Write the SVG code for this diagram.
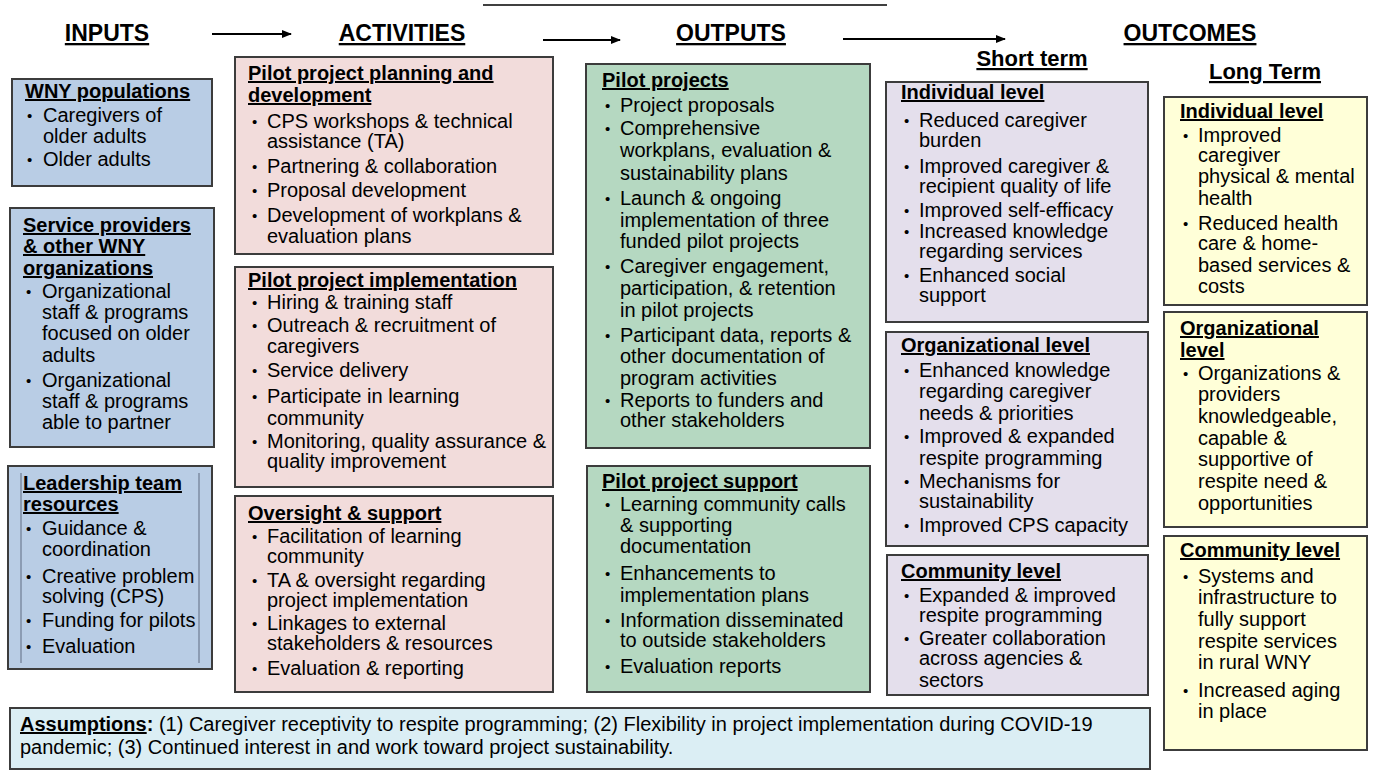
<svg xmlns="http://www.w3.org/2000/svg" width="1373" height="773" viewBox="0 0 1373 773">
  <style>
    text { font-family: "Liberation Sans", Arial, sans-serif; fill: #000; }
    .box { stroke: #3c3c3c; stroke-width: 2; }
    .in { fill: #b9cde5; }
    .act { fill: #f2dcdb; }
    .out { fill: #b5d8c1; }
    .st { fill: #e4dfec; }
    .lt { fill: #ffffd8; }
    .as { fill: #dbeef4; }
    .hd { font-size: 23px; font-weight: bold; text-decoration: underline; text-anchor: middle; }
    .sub { font-size: 22px; font-weight: bold; text-decoration: underline; text-anchor: middle; }
    .ti { font-size: 20px; font-weight: bold; text-decoration: underline; }
    .tx { font-size: 20px; }
    .bu { font-size: 15px; }
    .asm { font-size: 20px; }
    .flow { stroke: #000; stroke-width: 2; fill: none; }
  </style>
  <defs>
    <marker id="head" markerWidth="10" markerHeight="8" refX="9" refY="4" orient="auto" markerUnits="userSpaceOnUse">
      <path d="M0,0 L10,4 L0,8 Z" fill="#000"/>
    </marker>
  </defs>

  <rect width="1373" height="773" fill="#fff"/>

  <!-- column headings -->
  <g id="headings">
    <line x1="483" y1="5" x2="887" y2="5" stroke="#000" stroke-width="1.5"/>
    <text class="hd" x="107" y="41">INPUTS</text>
    <text class="hd" x="402" y="41">ACTIVITIES</text>
    <text class="hd" x="731" y="41">OUTPUTS</text>
    <text class="hd" x="1190" y="41">OUTCOMES</text>
    <text class="sub" x="1032" y="66">Short term</text>
    <text class="sub" x="1265" y="79">Long Term</text>
  </g>

  <!-- flow arrows between stages -->
  <g id="connectors">
    <line class="flow" x1="212" y1="34" x2="291" y2="34" marker-end="url(#head)"/>
    <line class="flow" x1="543" y1="40" x2="620" y2="40" marker-end="url(#head)"/>
    <line class="flow" x1="843" y1="39" x2="1005" y2="39" marker-end="url(#head)"/>
  </g>

  <!-- INPUTS -->
  <g id="wny-populations">
    <rect class="box in" x="12" y="79" width="200" height="107"/>
    <text class="ti" x="25" y="98">WNY populations</text>
    <text class="bu"><tspan x="27" y="121">•</tspan><tspan x="27" y="165">•</tspan></text>
    <text class="tx"><tspan x="43" y="122">Caregivers of</tspan><tspan x="43" y="143">older adults</tspan><tspan x="43" y="166">Older adults</tspan></text>
  </g>

  <g id="service-providers">
    <rect class="box in" x="10" y="208" width="204" height="239"/>
    <text class="ti"><tspan x="23" y="232">Service providers</tspan><tspan x="23" y="253">&amp; other WNY</tspan><tspan x="23" y="275">organizations</tspan></text>
    <text class="bu"><tspan x="26" y="297">•</tspan><tspan x="26" y="386">•</tspan></text>
    <text class="tx"><tspan x="42" y="298">Organizational</tspan><tspan x="42" y="319">staff &amp; programs</tspan><tspan x="42" y="340">focused on older</tspan><tspan x="42" y="362">adults</tspan><tspan x="42" y="387">Organizational</tspan><tspan x="42" y="408">staff &amp; programs</tspan><tspan x="42" y="429">able to partner</tspan></text>
  </g>

  <g id="leadership-resources">
    <rect class="box in" x="8" y="466" width="204" height="203"/>
    <line x1="21" y1="473" x2="21" y2="663" stroke="#8c9cb3" stroke-width="2"/>
    <line x1="199" y1="473" x2="199" y2="663" stroke="#8c9cb3" stroke-width="2"/>
    <text class="ti"><tspan x="23" y="490">Leadership team</tspan><tspan x="23" y="511">resources</tspan></text>
    <text class="bu"><tspan x="26" y="534">•</tspan><tspan x="26" y="582">•</tspan><tspan x="26" y="626">•</tspan><tspan x="26" y="652">•</tspan></text>
    <text class="tx"><tspan x="42" y="535">Guidance &amp;</tspan><tspan x="42" y="556">coordination</tspan><tspan x="42" y="583">Creative problem</tspan><tspan x="42" y="603">solving (CPS)</tspan><tspan x="42" y="627">Funding for pilots</tspan><tspan x="42" y="653">Evaluation</tspan></text>
  </g>

  <!-- ACTIVITIES -->
  <g id="planning-development">
    <rect class="box act" x="235" y="57" width="318" height="197"/>
    <text class="ti"><tspan x="248" y="80">Pilot project planning and</tspan><tspan x="248" y="102">development</tspan></text>
    <text class="bu"><tspan x="252" y="127">•</tspan><tspan x="252" y="172">•</tspan><tspan x="252" y="196">•</tspan><tspan x="252" y="221">•</tspan></text>
    <text class="tx"><tspan x="267" y="128">CPS workshops &amp; technical</tspan><tspan x="267" y="148">assistance (TA)</tspan><tspan x="267" y="173">Partnering &amp; collaboration</tspan><tspan x="267" y="197">Proposal development</tspan><tspan x="267" y="222">Development of workplans &amp;</tspan><tspan x="267" y="243">evaluation plans</tspan></text>
  </g>

  <g id="implementation">
    <rect class="box act" x="235" y="267" width="318" height="220"/>
    <text class="ti" x="248" y="287">Pilot project implementation</text>
    <text class="bu"><tspan x="252" y="308">•</tspan><tspan x="252" y="331">•</tspan><tspan x="252" y="376">•</tspan><tspan x="252" y="402">•</tspan><tspan x="252" y="447">•</tspan></text>
    <text class="tx"><tspan x="267" y="309">Hiring &amp; training staff</tspan><tspan x="267" y="332">Outreach &amp; recruitment of</tspan><tspan x="267" y="353">caregivers</tspan><tspan x="267" y="377">Service delivery</tspan><tspan x="267" y="403">Participate in learning</tspan><tspan x="267" y="425">community</tspan><tspan x="267" y="448">Monitoring, quality assurance &amp;</tspan><tspan x="267" y="468">quality improvement</tspan></text>
  </g>

  <g id="oversight-support">
    <rect class="box act" x="235" y="496" width="318" height="196"/>
    <text class="ti" x="248" y="520">Oversight &amp; support</text>
    <text class="bu"><tspan x="252" y="542">•</tspan><tspan x="252" y="586">•</tspan><tspan x="252" y="629">•</tspan><tspan x="252" y="674">•</tspan></text>
    <text class="tx"><tspan x="267" y="543">Facilitation of learning</tspan><tspan x="267" y="563">community</tspan><tspan x="267" y="587">TA &amp; oversight regarding</tspan><tspan x="267" y="607">project implementation</tspan><tspan x="267" y="630">Linkages to external</tspan><tspan x="267" y="650">stakeholders &amp; resources</tspan><tspan x="267" y="675">Evaluation &amp; reporting</tspan></text>
  </g>

  <!-- OUTPUTS -->
  <g id="pilot-projects">
    <rect class="box out" x="586" y="64" width="284" height="384"/>
    <text class="ti" x="602" y="87">Pilot projects</text>
    <text class="bu"><tspan x="605" y="111">•</tspan><tspan x="605" y="134">•</tspan><tspan x="605" y="204">•</tspan><tspan x="605" y="272">•</tspan><tspan x="605" y="341">•</tspan><tspan x="605" y="406">•</tspan></text>
    <text class="tx"><tspan x="620" y="112">Project proposals</tspan><tspan x="620" y="135">Comprehensive</tspan><tspan x="620" y="157">workplans, evaluation &amp;</tspan><tspan x="620" y="180">sustainability plans</tspan><tspan x="620" y="205">Launch &amp; ongoing</tspan><tspan x="620" y="227">implementation of three</tspan><tspan x="620" y="248">funded pilot projects</tspan><tspan x="620" y="273">Caregiver engagement,</tspan><tspan x="620" y="295">participation, &amp; retention</tspan><tspan x="620" y="317">in pilot projects</tspan><tspan x="620" y="342">Participant data, reports &amp;</tspan><tspan x="620" y="363">other documentation of</tspan><tspan x="620" y="385">program activities</tspan><tspan x="620" y="407">Reports to funders and</tspan><tspan x="620" y="427">other stakeholders</tspan></text>
  </g>

  <g id="pilot-support">
    <rect class="box out" x="587" y="466" width="283" height="226"/>
    <text class="ti" x="602" y="488">Pilot project support</text>
    <text class="bu"><tspan x="605" y="510">•</tspan><tspan x="605" y="579">•</tspan><tspan x="605" y="626">•</tspan><tspan x="605" y="672">•</tspan></text>
    <text class="tx"><tspan x="620" y="511">Learning community calls</tspan><tspan x="620" y="532">&amp; supporting</tspan><tspan x="620" y="553">documentation</tspan><tspan x="620" y="580">Enhancements to</tspan><tspan x="620" y="602">implementation plans</tspan><tspan x="620" y="627">Information disseminated</tspan><tspan x="620" y="647">to outside stakeholders</tspan><tspan x="620" y="673">Evaluation reports</tspan></text>
  </g>

  <!-- SHORT TERM OUTCOMES -->
  <g id="short-individual">
    <rect class="box st" x="886" y="82" width="262" height="240"/>
    <text class="ti" x="901" y="99">Individual level</text>
    <text class="bu"><tspan x="904" y="126">•</tspan><tspan x="904" y="172">•</tspan><tspan x="904" y="216">•</tspan><tspan x="904" y="237">•</tspan><tspan x="904" y="281">•</tspan></text>
    <text class="tx"><tspan x="919" y="127">Reduced caregiver</tspan><tspan x="919" y="147">burden</tspan><tspan x="919" y="173">Improved caregiver &amp;</tspan><tspan x="919" y="193">recipient quality of life</tspan><tspan x="919" y="217">Improved self-efficacy</tspan><tspan x="919" y="238">Increased knowledge</tspan><tspan x="919" y="258">regarding services</tspan><tspan x="919" y="282">Enhanced social</tspan><tspan x="919" y="302">support</tspan></text>
  </g>

  <g id="short-organizational">
    <rect class="box st" x="886" y="332" width="262" height="214"/>
    <text class="ti" x="901" y="352">Organizational level</text>
    <text class="bu"><tspan x="904" y="376">•</tspan><tspan x="904" y="442">•</tspan><tspan x="904" y="487">•</tspan><tspan x="904" y="531">•</tspan></text>
    <text class="tx"><tspan x="919" y="377">Enhanced knowledge</tspan><tspan x="919" y="398">regarding caregiver</tspan><tspan x="919" y="420">needs &amp; priorities</tspan><tspan x="919" y="443">Improved &amp; expanded</tspan><tspan x="919" y="465">respite programming</tspan><tspan x="919" y="488">Mechanisms for</tspan><tspan x="919" y="508">sustainability</tspan><tspan x="919" y="532">Improved CPS capacity</tspan></text>
  </g>

  <g id="short-community">
    <rect class="box st" x="887" y="555" width="261" height="140"/>
    <text class="ti" x="901" y="578">Community level</text>
    <text class="bu"><tspan x="904" y="601">•</tspan><tspan x="904" y="644">•</tspan></text>
    <text class="tx"><tspan x="919" y="602">Expanded &amp; improved</tspan><tspan x="919" y="622">respite programming</tspan><tspan x="919" y="645">Greater collaboration</tspan><tspan x="919" y="665">across agencies &amp;</tspan><tspan x="919" y="687">sectors</tspan></text>
  </g>

  <!-- LONG TERM OUTCOMES -->
  <g id="long-individual">
    <rect class="box lt" x="1164" y="97" width="203" height="208"/>
    <text class="ti" x="1180" y="118">Individual level</text>
    <text class="bu"><tspan x="1183" y="141">•</tspan><tspan x="1183" y="229">•</tspan></text>
    <text class="tx"><tspan x="1198" y="142">Improved</tspan><tspan x="1198" y="162">caregiver</tspan><tspan x="1198" y="183">physical &amp; mental</tspan><tspan x="1198" y="205">health</tspan><tspan x="1198" y="230">Reduced health</tspan><tspan x="1198" y="250">care &amp; home-</tspan><tspan x="1198" y="272">based services &amp;</tspan><tspan x="1198" y="293">costs</tspan></text>
  </g>

  <g id="long-organizational">
    <rect class="box lt" x="1164" y="312" width="203" height="215"/>
    <text class="ti"><tspan x="1180" y="335">Organizational</tspan><tspan x="1180" y="357">level</tspan></text>
    <text class="bu"><tspan x="1183" y="379">•</tspan></text>
    <text class="tx"><tspan x="1198" y="380">Organizations &amp;</tspan><tspan x="1198" y="401">providers</tspan><tspan x="1198" y="423">knowledgeable,</tspan><tspan x="1198" y="445">capable &amp;</tspan><tspan x="1198" y="466">supportive of</tspan><tspan x="1198" y="488">respite need &amp;</tspan><tspan x="1198" y="510">opportunities</tspan></text>
  </g>

  <g id="long-community">
    <rect class="box lt" x="1164" y="536" width="203" height="214"/>
    <text class="ti" x="1180" y="557">Community level</text>
    <text class="bu"><tspan x="1183" y="582">•</tspan><tspan x="1183" y="696">•</tspan></text>
    <text class="tx"><tspan x="1198" y="583">Systems and</tspan><tspan x="1198" y="604">infrastructure to</tspan><tspan x="1198" y="626">fully support</tspan><tspan x="1198" y="648">respite services</tspan><tspan x="1198" y="669">in rural WNY</tspan><tspan x="1198" y="697">Increased aging</tspan><tspan x="1198" y="718">in place</tspan></text>
  </g>

  <!-- assumptions -->
  <g id="assumptions">
    <rect class="box as" x="10" y="708" width="1140" height="61"/>
    <text class="asm" x="20" y="731"><tspan font-weight="bold" text-decoration="underline">Assumptions</tspan><tspan font-weight="bold">:</tspan> (1) Caregiver receptivity to respite programming; (2) Flexibility in project implementation during COVID-19</text>
    <text class="asm" x="20" y="754">pandemic; (3) Continued interest in and work toward project sustainability.</text>
  </g>
</svg>
